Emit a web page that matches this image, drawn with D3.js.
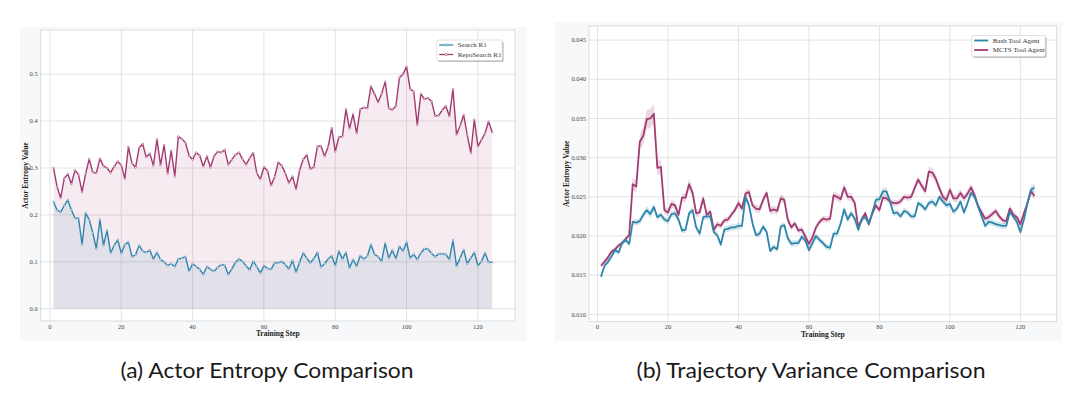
<!DOCTYPE html>
<html>
<head>
<meta charset="utf-8">
<script src="https://cdn.jsdelivr.net/npm/d3@7"></script>
<style>
  html, body { margin: 0; padding: 0; background: #fff; }
  svg { display: block; }
</style>
</head>
<body>
<div class="canvas"></div>
<script>
/////////////////////////////////////////////////////
////////////// data /////////////
/////////////////////////////////////////////////////

// training steps shared by both panels
const steps = d3.range(1, 125);

// (a) actor entropy
const searchR1 = [
  0.228, 0.210, 0.206, 0.220, 0.232, 0.211, 0.193, 0.193, 0.137, 0.204,
  0.190, 0.162, 0.128, 0.190, 0.135, 0.167, 0.119, 0.135, 0.147, 0.118,
  0.137, 0.142, 0.111, 0.115, 0.135, 0.123, 0.120, 0.125, 0.106, 0.120,
  0.105, 0.100, 0.092, 0.096, 0.090, 0.106, 0.108, 0.111, 0.080, 0.096,
  0.090, 0.084, 0.073, 0.090, 0.084, 0.080, 0.088, 0.094, 0.093, 0.073,
  0.085, 0.099, 0.106, 0.101, 0.091, 0.083, 0.101, 0.090, 0.076, 0.092,
  0.086, 0.084, 0.098, 0.098, 0.101, 0.094, 0.085, 0.103, 0.078, 0.099,
  0.119, 0.108, 0.098, 0.107, 0.120, 0.089, 0.096, 0.106, 0.113, 0.092,
  0.123, 0.106, 0.120, 0.087, 0.105, 0.091, 0.113, 0.106, 0.112, 0.137,
  0.116, 0.111, 0.101, 0.140, 0.108, 0.125, 0.107, 0.133, 0.123, 0.142,
  0.108, 0.116, 0.105, 0.119, 0.128, 0.127, 0.118, 0.111, 0.117, 0.117,
  0.116, 0.105, 0.146, 0.091, 0.108, 0.126, 0.096, 0.108, 0.120, 0.092,
  0.101, 0.119, 0.099, 0.099
];
const repoSearchR1 = [
  0.300, 0.260, 0.236, 0.278, 0.287, 0.266, 0.295, 0.286, 0.249, 0.288,
  0.319, 0.291, 0.289, 0.320, 0.304, 0.300, 0.290, 0.303, 0.314, 0.306,
  0.277, 0.345, 0.310, 0.301, 0.343, 0.351, 0.323, 0.331, 0.305, 0.361,
  0.306, 0.349, 0.288, 0.337, 0.282, 0.367, 0.362, 0.354, 0.326, 0.318,
  0.333, 0.326, 0.303, 0.325, 0.301, 0.325, 0.335, 0.333, 0.339, 0.307,
  0.318, 0.328, 0.333, 0.319, 0.307, 0.321, 0.332, 0.289, 0.276, 0.302,
  0.294, 0.263, 0.281, 0.312, 0.305, 0.289, 0.268, 0.282, 0.255, 0.295,
  0.318, 0.328, 0.298, 0.302, 0.346, 0.347, 0.325, 0.345, 0.385, 0.335,
  0.366, 0.367, 0.425, 0.384, 0.415, 0.374, 0.425, 0.429, 0.427, 0.474,
  0.458, 0.440, 0.458, 0.484, 0.427, 0.424, 0.432, 0.493, 0.500, 0.516,
  0.468, 0.463, 0.392, 0.458, 0.447, 0.449, 0.442, 0.411, 0.412, 0.423,
  0.432, 0.410, 0.468, 0.371, 0.390, 0.413, 0.371, 0.332, 0.403, 0.346,
  0.360, 0.374, 0.399, 0.376
];

// (b) trajectory variance, mean lines
const bashTool = [
  0.0148, 0.0162, 0.0167, 0.0174, 0.0182, 0.0179, 0.0191, 0.0195, 0.0190, 0.0218,
  0.0217, 0.0219, 0.0227, 0.0233, 0.0228, 0.0237, 0.0224, 0.0227, 0.0221, 0.0219,
  0.0228, 0.0229, 0.0221, 0.0207, 0.0208, 0.0229, 0.0233, 0.0211, 0.0203, 0.0224,
  0.0225, 0.0225, 0.0205, 0.0201, 0.0189, 0.0208, 0.0209, 0.0211, 0.0211, 0.0213,
  0.0213, 0.0250, 0.0239, 0.0216, 0.0201, 0.0203, 0.0212, 0.0205, 0.0181, 0.0186,
  0.0183, 0.0212, 0.0214, 0.0197, 0.0190, 0.0191, 0.0191, 0.0199, 0.0194, 0.0182,
  0.0191, 0.0200, 0.0195, 0.0191, 0.0186, 0.0185, 0.0203, 0.0203, 0.0216, 0.0234,
  0.0221, 0.0229, 0.0222, 0.0208, 0.0222, 0.0224, 0.0216, 0.0230, 0.0246, 0.0247,
  0.0257, 0.0257, 0.0244, 0.0229, 0.0230, 0.0225, 0.0232, 0.0230, 0.0225, 0.0225,
  0.0242, 0.0239, 0.0234, 0.0242, 0.0244, 0.0239, 0.0250, 0.0244, 0.0239, 0.0241,
  0.0231, 0.0235, 0.0244, 0.0230, 0.0242, 0.0255, 0.0250, 0.0238, 0.0225, 0.0213,
  0.0218, 0.0217, 0.0215, 0.0214, 0.0213, 0.0213, 0.0231, 0.0225, 0.0218, 0.0205,
  0.0221, 0.0242, 0.0259, 0.0262
];
const mctsTool = [
  0.0162, 0.0167, 0.0173, 0.0180, 0.0183, 0.0188, 0.0191, 0.0196, 0.0201, 0.0266,
  0.0263, 0.0320, 0.0328, 0.0349, 0.0350, 0.0356, 0.0287, 0.0288, 0.0233, 0.0230,
  0.0241, 0.0239, 0.0227, 0.0249, 0.0249, 0.0266, 0.0255, 0.0229, 0.0230, 0.0248,
  0.0227, 0.0231, 0.0208, 0.0215, 0.0213, 0.0220, 0.0221, 0.0227, 0.0233, 0.0242,
  0.0235, 0.0254, 0.0256, 0.0239, 0.0235, 0.0234, 0.0246, 0.0255, 0.0232, 0.0234,
  0.0232, 0.0248, 0.0246, 0.0221, 0.0211, 0.0216, 0.0207, 0.0208, 0.0199, 0.0190,
  0.0198, 0.0211, 0.0218, 0.0222, 0.0221, 0.0222, 0.0252, 0.0250, 0.0247, 0.0262,
  0.0250, 0.0250, 0.0242, 0.0211, 0.0221, 0.0229, 0.0215, 0.0229, 0.0239, 0.0233,
  0.0249, 0.0248, 0.0244, 0.0242, 0.0242, 0.0244, 0.0250, 0.0249, 0.0250, 0.0261,
  0.0272, 0.0264, 0.0257, 0.0282, 0.0281, 0.0273, 0.0261, 0.0250, 0.0246, 0.0259,
  0.0248, 0.0248, 0.0255, 0.0248, 0.0254, 0.0262, 0.0252, 0.0238, 0.0230, 0.0222,
  0.0224, 0.0228, 0.0232, 0.0225, 0.0220, 0.0219, 0.0235, 0.0227, 0.0224, 0.0215,
  0.0229, 0.0242, 0.0257, 0.0251
];

// half width of the shaded band, in units of 1e-4
const bashSpread = [
  3, 3, 3, 3, 3, 3, 3, 3, 3, 4,
  4, 4, 4, 5, 5, 5, 4, 4, 4, 4,
  4, 4, 4, 4, 4, 4, 5, 4, 4, 4,
  4, 4, 4, 4, 4, 4, 4, 4, 4, 4,
  4, 5, 5, 5, 4, 4, 4, 4, 4, 4,
  4, 4, 4, 4, 4, 4, 4, 4, 4, 4,
  4, 4, 4, 4, 4, 4, 4, 4, 4, 5,
  5, 4, 4, 4, 4, 4, 4, 4, 4, 4,
  5, 5, 4, 4, 4, 4, 4, 4, 4, 4,
  4, 4, 4, 4, 4, 4, 4, 4, 4, 4,
  4, 4, 4, 4, 4, 4, 4, 4, 4, 4,
  4, 4, 4, 4, 4, 4, 4, 4, 4, 4,
  4, 4, 5, 5
];
const mctsSpread = [
  3, 3, 3, 3, 3, 3, 3, 3, 3, 8,
  8, 10, 11, 12, 12, 12, 9, 9, 5, 5,
  5, 5, 5, 5, 6, 7, 6, 5, 5, 5,
  5, 5, 5, 4, 4, 4, 4, 4, 4, 5,
  5, 5, 5, 5, 5, 5, 5, 5, 5, 5,
  5, 5, 5, 5, 4, 4, 4, 4, 4, 4,
  4, 4, 4, 4, 4, 4, 5, 5, 5, 6,
  5, 5, 5, 4, 4, 4, 4, 4, 4, 4,
  4, 4, 4, 4, 4, 4, 4, 4, 4, 5,
  5, 5, 5, 6, 6, 6, 5, 5, 5, 5,
  5, 5, 5, 5, 5, 5, 5, 5, 4, 4,
  4, 4, 4, 4, 4, 4, 5, 5, 4, 4,
  4, 4, 5, 5
];

// tick labels
const xTicks = [0, 20, 40, 60, 80, 100, 120];
const entropyTicks = [0.0, 0.1, 0.2, 0.3, 0.4, 0.5];
const varianceTicks = [0.010, 0.015, 0.020, 0.025, 0.030, 0.035, 0.040, 0.045];

const blue = '#2E86AB';
const magenta = '#A23B72';

/////////////////////////////////////////////////////
///////////////// svg container /////////////////////
/////////////////////////////////////////////////////
const svg = d3.select('.canvas')
  .append('svg')
  .attr('width', 1080)
  .attr('height', 399);

svg.append('rect')
  .attr('width', 1080).attr('height', 399)
  .attr('fill', '#fff');

// draws one panel: background, grid, axes text, then whatever the draw() callback adds
const makePanel = (p) => {
  const g = svg.append('g');

  // light grey card behind the axes
  g.append('rect')
    .attr('x', p.card[0]).attr('y', p.card[1])
    .attr('width', p.card[2]).attr('height', p.card[3])
    .attr('fill', '#f7f8fa');

  const x = d3.scaleLinear().domain(p.xDomain).range([p.box.left, p.box.right]);
  const y = d3.scaleLinear().domain(p.yDomain).range([p.box.bottom, p.box.top]);

  // white plotting area
  g.append('rect')
    .attr('x', p.box.left).attr('y', p.box.top)
    .attr('width', p.box.right - p.box.left)
    .attr('height', p.box.bottom - p.box.top)
    .attr('fill', '#fff');

  // grid
  g.append('g').selectAll('line')
    .data(xTicks).join('line')
    .attr('x1', d => x(d)).attr('x2', d => x(d))
    .attr('y1', p.box.top).attr('y2', p.box.bottom)
    .attr('stroke', '#dcdcdc').attr('stroke-width', 0.8);
  g.append('g').selectAll('line')
    .data(p.yTicks).join('line')
    .attr('x1', p.box.left).attr('x2', p.box.right)
    .attr('y1', d => y(d)).attr('y2', d => y(d))
    .attr('stroke', '#dcdcdc').attr('stroke-width', 0.8);

  // series
  p.draw(g.append('g'), x, y);

  // frame
  g.append('rect')
    .attr('x', p.box.left).attr('y', p.box.top)
    .attr('width', p.box.right - p.box.left)
    .attr('height', p.box.bottom - p.box.top)
    .attr('fill', 'none')
    .attr('stroke', '#d4d4d4').attr('stroke-width', 0.8);

  // tick labels
  g.append('g').selectAll('text')
    .data(xTicks).join('text')
    .attr('x', d => x(d)).attr('y', p.box.bottom + 7.5)
    .attr('text-anchor', 'middle')
    .style('font', '6.5px "Liberation Serif", serif')
    .attr('fill', '#444')
    .text(d => d);
  g.append('g').selectAll('text')
    .data(p.yTicks).join('text')
    .attr('x', p.box.left - 3).attr('y', d => y(d) + 2.2)
    .attr('text-anchor', 'end')
    .style('font', '6.5px "Liberation Serif", serif')
    .attr('fill', '#444')
    .text(d => d3.format(p.tickFormat)(d));

  // axis titles
  g.append('text')
    .attr('x', (p.box.left + p.box.right) / 2)
    .attr('y', p.box.bottom + 15)
    .attr('text-anchor', 'middle')
    .style('font', 'bold 7.5px "Liberation Serif", serif')
    .attr('fill', '#222')
    .text('Training Step');
  g.append('text')
    .attr('transform', `translate(${p.yTitleX}, ${(p.box.top + p.box.bottom) / 2}) rotate(-90)`)
    .attr('text-anchor', 'middle')
    .style('font', 'bold 7.5px "Liberation Serif", serif')
    .attr('fill', '#222')
    .text('Actor Entropy Value');

  // legend with a soft drop shadow
  const lg = g.append('g').attr('transform', `translate(${p.legend.x}, ${p.legend.y})`);
  lg.append('rect')
    .attr('x', 1.5).attr('y', 1.5)
    .attr('width', p.legend.w).attr('height', p.legend.h)
    .attr('rx', 1.5)
    .attr('fill', '#9a9a9a').attr('opacity', 0.6);
  lg.append('rect')
    .attr('width', p.legend.w).attr('height', p.legend.h)
    .attr('rx', 1.5)
    .attr('fill', '#fff').attr('stroke', '#cfcfcf').attr('stroke-width', 0.6);
  p.legend.items.forEach((item, i) => {
    const row = lg.append('g').attr('transform', `translate(0, ${5 + i * 9.5})`);
    row.append('line')
      .attr('x1', 2.5).attr('x2', 16.5)
      .attr('stroke', item.color).attr('stroke-width', p.legend.lw);
    if (p.legend.marker) {
      row.append('circle')
        .attr('cx', 9.5).attr('r', 1.2)
        .attr('fill', '#fff').attr('stroke', item.color).attr('stroke-width', 0.6);
    }
    row.append('text')
      .attr('x', 21).attr('y', 2.3)
      .style('font', '7px "Liberation Serif", serif')
      .attr('fill', '#333')
      .text(item.name);
  });

  // caption under the card (squeezed to the width the original takes)
  svg.append('text')
    .attr('x', p.caption.x).attr('y', p.caption.y)
    .attr('text-anchor', 'middle')
    .attr('textLength', p.caption.width)
    .attr('lengthAdjust', 'spacingAndGlyphs')
    .style('font', '22px Lato, "Open Sans", sans-serif')
    .attr('fill', '#1a1a1a')
    .text(p.caption.text);
};

/////////////////////////////////////////////////////
////////////// (a) actor entropy panel //////////////
/////////////////////////////////////////////////////
makePanel({
  card: [20, 27, 507, 314],
  box: { left: 40.7, right: 515, top: 30, bottom: 321 },
  xDomain: [-2.6, 130.4],
  yDomain: [-0.026, 0.594],
  yTicks: entropyTicks,
  tickFormat: '.1f',
  yTitleX: 28,
  legend: {
    x: 436.7, y: 40, w: 65.5, h: 20.5, lw: 1.3, marker: true,
    items: [{ name: 'Search R1', color: blue }, { name: 'RepoSearch R1', color: magenta }]
  },
  caption: { x: 267, y: 378, width: 293, text: '(a) Actor Entropy Comparison' },
  draw: (g, x, y) => {
    const series = [
      { values: repoSearchR1, color: magenta },
      { values: searchR1, color: blue }
    ];
    const area = d3.area()
      .x((d, i) => x(steps[i]))
      .y0(y(0))
      .y1(d => y(d));
    const line = d3.line()
      .x((d, i) => x(steps[i]))
      .y(d => y(d));

    // filled areas down to zero
    series.forEach(s => {
      g.append('path')
        .attr('d', area(s.values))
        .attr('fill', s.color).attr('fill-opacity', 0.1);
    });
    // lines with small hollow dots
    series.forEach(s => {
      g.append('path')
        .attr('d', line(s.values))
        .attr('fill', 'none')
        .attr('stroke', s.color).attr('stroke-width', 1.4)
        .attr('stroke-linejoin', 'round');
      g.append('g').selectAll('circle')
        .data(s.values).join('circle')
        .attr('cx', (d, i) => x(steps[i]))
        .attr('cy', d => y(d))
        .attr('r', 0.9)
        .attr('fill', '#fbeef5').attr('stroke', s.color).attr('stroke-width', 0.4);
    });
  }
});

/////////////////////////////////////////////////////
/////////// (b) trajectory variance panel ///////////
/////////////////////////////////////////////////////
makePanel({
  card: [555, 22, 507, 319],
  box: { left: 589, right: 1056.7, top: 26, bottom: 321.7 },
  xDomain: [-2.4, 130.3],
  yDomain: [0.00906, 0.0468],
  yTicks: varianceTicks,
  tickFormat: '.3f',
  yTitleX: 569,
  legend: {
    x: 971.7, y: 35.5, w: 73.5, h: 21, lw: 1.8, marker: false,
    items: [{ name: 'Bash Tool Agent', color: blue }, { name: 'MCTS Tool Agent', color: magenta }]
  },
  caption: { x: 811, y: 378, width: 349, text: '(b) Trajectory Variance Comparison' },
  draw: (g, x, y) => {
    const series = [
      { values: mctsTool, spread: mctsSpread, color: magenta },
      { values: bashTool, spread: bashSpread, color: blue }
    ];
    series.forEach(s => {
      const band = d3.area()
        .x((d, i) => x(steps[i]))
        .y0((d, i) => y(d - s.spread[i] * 1e-4))
        .y1((d, i) => y(d + s.spread[i] * 1e-4));
      g.append('path')
        .attr('d', band(s.values))
        .attr('fill', s.color).attr('fill-opacity', 0.2);
    });
    const line = d3.line()
      .x((d, i) => x(steps[i]))
      .y(d => y(d));
    series.forEach(s => {
      g.append('path')
        .attr('d', line(s.values))
        .attr('fill', 'none')
        .attr('stroke', s.color).attr('stroke-width', 1.8)
        .attr('stroke-linejoin', 'round');
    });
  }
});
</script>
</body>
</html>
